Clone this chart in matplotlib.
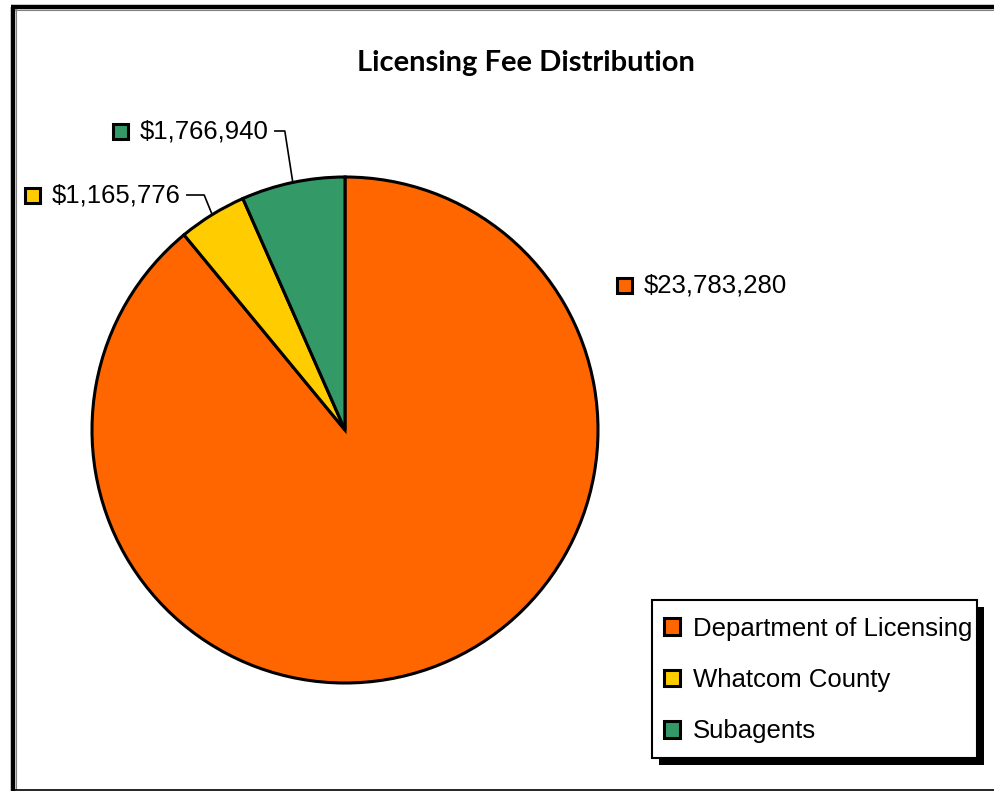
import matplotlib
matplotlib.use("Agg")
import matplotlib.pyplot as plt
import numpy as np
from matplotlib.lines import Line2D
from matplotlib.patches import Rectangle

W, H = 994, 791

title = "Licensing Fee Distribution"
categories = ["Department of Licensing", "Whatcom County", "Subagents"]
fees = [23783280, 1165776, 1766940]
colors = ["#FF6600", "#FFCC00", "#339966"]

# label positions (pixels, top-left origin) - left edge of the marker box
label_pos = {0: (617, 285), 1: (25, 195), 2: (113, 131)}


def fx(x):
    return x / W


def fy(y):
    return 1 - y / H


plt.rcParams['font.family'] = ['Liberation Sans', 'DejaVu Sans']

fig = plt.figure(figsize=(W / 100, H / 100), dpi=100)

# pie axes: centre (345,430), radius 253
cx, cy, r = 345, 430, 253
ax = fig.add_axes([fx(cx - r), fy(cy + r), 2 * r / W, 2 * r / H])
wedges, _ = ax.pie(fees, colors=colors, startangle=90, counterclock=False,
                   wedgeprops=dict(edgecolor="black", linewidth=2.2))
ax.set_xlim(-1, 1)
ax.set_ylim(-1, 1)
for w in wedges:
    w.set_clip_on(False)

fig.text(fx(526), fy(63), title, ha="center", va="center",
         fontsize=21, fontweight="bold", family=["Lato", "DejaVu Sans"])

# data labels with marker boxes and leader lines
total = sum(fees)
ang = 90.0
mids = []
for v in fees:
    sweep = 360.0 * v / total
    mids.append(np.radians(ang - sweep / 2))
    ang -= sweep

for i, v in enumerate(fees):
    bx, by = label_pos[i]
    fig.patches.append(Rectangle((fx(bx), fy(by + 8)), 15 / W, 15 / H,
                                 transform=fig.transFigure, facecolor=colors[i],
                                 edgecolor="black", linewidth=2.2))
    t = fig.text(fx(bx + 27), fy(by), "${:,}".format(v), ha="left",
                 va="center", fontsize=18.5)
    if i > 0:
        fig.canvas.draw()
        ext = t.get_window_extent()
        x0 = ext.x1 + 6
        ex = cx + r * np.cos(mids[i])
        ey = cy - r * np.sin(mids[i])
        x1 = ex - 8
        fig.add_artist(Line2D([x0 / W, fx(x1), fx(ex)], [fy(by), fy(by), fy(ey)],
                              transform=fig.transFigure, color="black", lw=1.2))

# legend box with shadow (Excel style)
lx0, ly0, lx1, ly1 = 652, 600, 977, 758
fig.patches.append(Rectangle((fx(lx0 + 7), fy(ly1 + 7)), (lx1 - lx0) / W, (ly1 - ly0) / H,
                             transform=fig.transFigure, facecolor="black",
                             edgecolor="none", zorder=3))
fig.patches.append(Rectangle((fx(lx0), fy(ly1)), (lx1 - lx0) / W, (ly1 - ly0) / H,
                             transform=fig.transFigure, facecolor="white",
                             edgecolor="black", linewidth=1.5, zorder=3.5))

handles = [Rectangle((0, 0), 1, 1, facecolor=c, edgecolor="black", linewidth=2.2)
           for c in colors]
leg = fig.legend(handles, categories, loc="center left",
                 bbox_to_anchor=(fx(664), fy(680)), fontsize=18.5,
                 frameon=False,
                 handlelength=0.62, handleheight=0.62, handletextpad=0.5,
                 labelspacing=1.06, borderpad=0, borderaxespad=0)
leg.set_zorder(5)

# outer frame
fig.add_artist(Line2D([fx(13), fx(13)], [fy(791), fy(7)], transform=fig.transFigure,
                      color="black", lw=3.2, solid_capstyle="butt"))
fig.add_artist(Line2D([fx(11), fx(994)], [fy(7), fy(7)], transform=fig.transFigure,
                      color="black", lw=3.2, solid_capstyle="butt"))
fig.add_artist(Line2D([fx(15.5), fx(15.5)], [fy(789), fy(9)], transform=fig.transFigure,
                      color="#808080", lw=0.8))
fig.add_artist(Line2D([fx(15), fx(994)], [fy(9.5), fy(9.5)], transform=fig.transFigure,
                      color="#808080", lw=0.8))
fig.add_artist(Line2D([fx(15), fx(994)], [fy(789.5), fy(789.5)], transform=fig.transFigure,
                      color="black", lw=1.2))

fig.savefig("out.png", dpi=100)
